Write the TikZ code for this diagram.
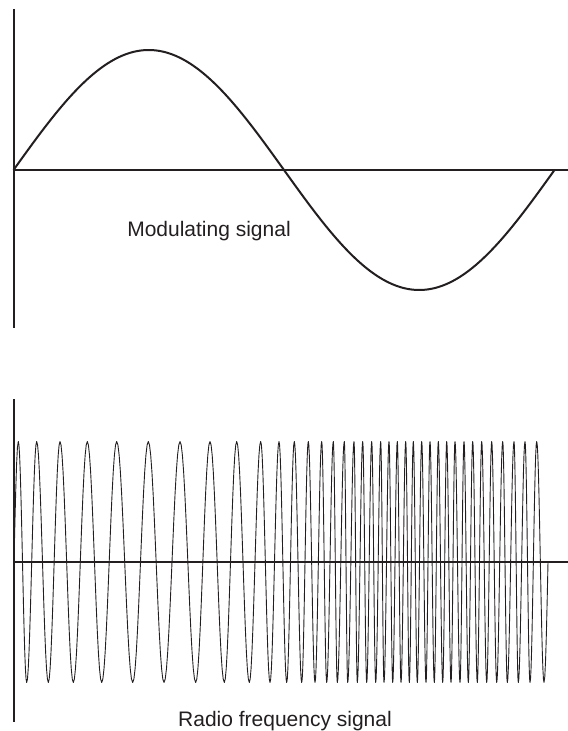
\documentclass[tikz,border=0pt]{standalone}
\usepackage{fontspec}
\setmainfont{Liberation Sans}
\definecolor{ink}{HTML}{231F20}
\begin{document}
\begin{tikzpicture}[x=1bp,y=-1bp,
  axis/.style={draw=ink,line width=2bp},
  bigwave/.style={draw=ink,line width=2bp,line join=round},
  rfwave/.style={draw=ink,line width=0.9bp,line join=round,line cap=round},
  lbl/.style={text=ink,font=\fontsize{21bp}{24bp}\selectfont,inner sep=0pt,anchor=base}]
\useasboundingbox (0,0) rectangle (568,731);
% top axes
\coordinate (t0) at (13.5,170);
\coordinate (ttop) at (13.5,9);
\coordinate (tbot) at (13.5,328);
\coordinate (tend) at (568,170);
\draw[axis] (ttop) -- (tbot);
\draw[axis] (t0) -- (tend);
\draw[bigwave] plot[domain=13.5:554.5,samples=200,smooth] (\x,{170-120*sin(0.66543*(\x-13.5))});
\node[lbl] (mod) at (209,236) {Modulating signal};
% bottom axes
\coordinate (b0) at (13.5,562);
\coordinate (btop) at (13.5,399);
\coordinate (bbot) at (13.5,722);
\coordinate (bend) at (568,562);
\draw[axis] (btop) -- (bbot);
\draw[axis] (b0) -- (bend);
\draw[rfwave] (14,562) plot[domain=14:18.3,samples=6] (\x,{562-120.5*sin(90*(\x-14)/4.3)})
  \foreach \b [remember=\b as \a (initially 18.3), count=\i,
     evaluate=\i as \s using {mod(\i,2)==1 ? 1 : -1}] in
   {26.7,36.7,48.3,60,73.3,87.3,101.7,116.7,132.7,148.3,164,180,195.7,210,224.3,236.7,249.3,260.7,270,279,286.7,294.3,301.7,308.3,315,321.7,326.7,333.3,337.3,344.3,347.7,354,357.3,362.7,366.7,371.7,375.7,380.7,384,389,392.7,397.3,401,405.7,409.3,413.3,417.3,421.7,426,430,434.3,438.3,442.7,446.7,451,455,460,464,468.3,472.7,477.3,481.7,486.7,491.7,496.7,502.7,507.3,514,518.3,525,530,536.7,544}
  { -- plot[domain=\a:\b,samples=14] (\x,{562-\s*120.5*cos(180*(\x-\a)/(\b-\a))}) }
  -- plot[domain=544:548,samples=6] (\x,{562+120.5*cos(90*(\x-544)/4)});
\node[lbl] (rf) at (285,726) {Radio frequency signal};
\end{tikzpicture}
\end{document}
